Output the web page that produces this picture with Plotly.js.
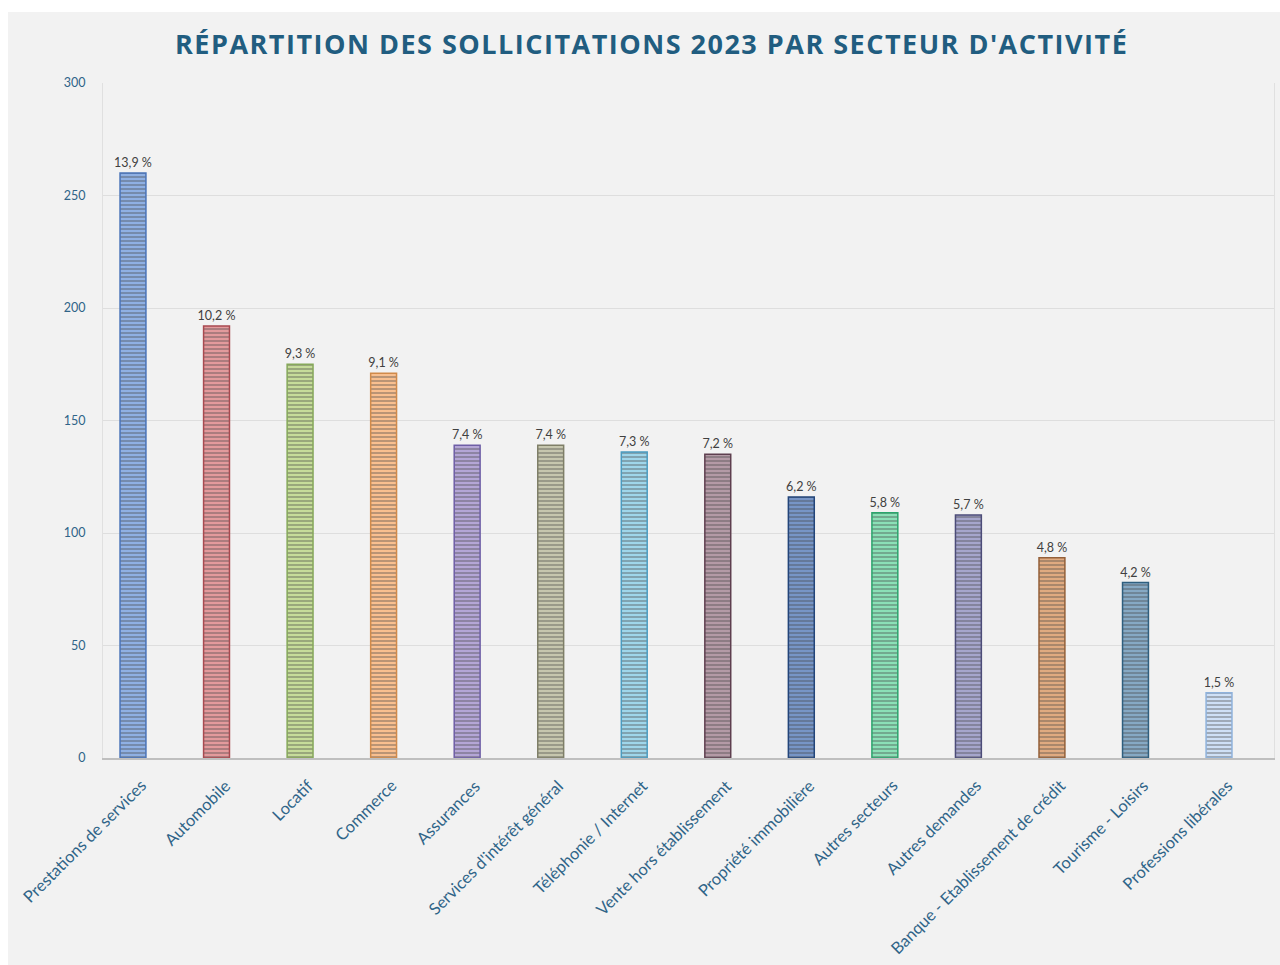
<!DOCTYPE html>
<html>
<head>
<meta charset="utf-8">
<script src="https://cdn.plot.ly/plotly-3.0.1.min.js"></script>
<style>
html,body{margin:0;padding:0;background:#ffffff;}
#chart{position:absolute;left:8px;top:12px;width:1272px;height:953px;}
#chart .gtitle{letter-spacing:1.5px;}
</style>
</head>
<body>
<div id="chart"></div>
<script>
const categories = [
  "Prestations de services","Automobile","Locatif","Commerce","Assurances",
  "Services d'intérêt général","Téléphonie / Internet","Vente hors établissement",
  "Propriété immobilière","Autres secteurs","Autres demandes",
  "Banque - Etablissement de crédit","Tourisme - Loisirs","Professions libérales"
];
const values = [260, 192, 175, 171, 139, 139, 136, 135, 116, 109, 108, 89, 78, 29];
const percentLabels = ["13,9 %","10,2 %","9,3 %","9,1 %","7,4 %","7,4 %","7,3 %","7,2 %","6,2 %","5,8 %","5,7 %","4,8 %","4,2 %","1,5 %"];
const yTicks = [0, 50, 100, 150, 200, 250, 300];
const fillColors = ["#8fb0e3","#e39a9c","#c6dc9a","#f8bf8f","#b4a6d6","#c6c6ae","#9fd6ea","#b49aa6","#7795c6","#8be0b7","#a6a6cc","#e0aa80","#86a9c4","#cfe0f6"];
const lineColors = ["#4a74b8","#a84a50","#86a85a","#d08a4a","#6e5ea6","#7f7f68","#4a9cc0","#5e3f4f","#23457a","#2aa56c","#4c4c78","#94603a","#2f5f7f","#8fb2dc"];

const trace = {
  type: "bar",
  x: categories,
  y: values,
  text: percentLabels,
  textposition: "outside",
  constraintext: "none",
  cliponaxis: false,
  textfont: {family: "Lato, 'Open Sans', sans-serif", size: 12.5, color: "#404040"},
  width: 0.31,
  marker: {
    color: fillColors,
    line: {color: lineColors, width: 1.5},
    pattern: {shape: "-", fgcolor: lineColors, size: 4, solidity: 0.35, fillmode: "overlay"}
  },
  hoverinfo: "x+y"
};

const annotations = categories.map(c => ({
  x: c, y: 0, xref: "x", yref: "y",
  text: c, showarrow: false, textangle: -45,
  xanchor: "right", yanchor: "top",
  xshift: 20, yshift: -15,
  font: {family: "Lato, 'Open Sans', sans-serif", size: 16.5, color: "#2f6488"}
}));

const layout = {
  width: 1272, height: 953,
  paper_bgcolor: "#f2f2f2",
  plot_bgcolor: "#f2f2f2",
  margin: {l: 95, r: 6, t: 71, b: 207},
  showlegend: false,
  title: {
    text: "<b>RÉPARTITION DES SOLLICITATIONS 2023 PAR SECTEUR D'ACTIVITÉ</b>",
    font: {family: "'Open Sans', sans-serif", size: 27, color: "#215d80"},
    x: 0.506, xanchor: "center", y: 0.966, yanchor: "middle"
  },
  annotations: annotations,
  xaxis: {
    type: "category",
    range: [-0.359, 13.658],
    showticklabels: false,
    showline: true, linecolor: "#bfbfbf", linewidth: 1.5,
    showgrid: false, ticks: ""
  },
  yaxis: {
    range: [0, 300],
    tickvals: yTicks,
    tickfont: {family: "Lato, 'Open Sans', sans-serif", size: 12.5, color: "#2f6488"},
    showgrid: true, gridcolor: "#dedede", gridwidth: 1,
    zeroline: false, showline: true, linecolor: "#e0e0e0", mirror: true,
    ticks: "", ticklabelstandoff: 14
  }
};

Plotly.newPlot("chart", [trace], layout, {displayModeBar: false, staticPlot: true});
</script>
</body>
</html>
